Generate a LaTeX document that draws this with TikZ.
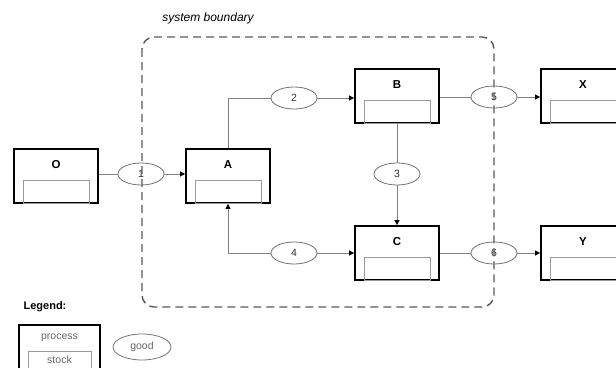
\documentclass[tikz,border=0pt]{standalone}
\usepackage{fontspec}
\setmainfont{Liberation Sans}
\usetikzlibrary{shapes.geometric, arrows.meta}

\tikzset{
  process/.style={draw, line width=1.8pt, minimum width=84pt, minimum height=54pt, inner sep=0pt},
  stock/.style={draw=black!40, line width=0.8pt, minimum width=66pt, minimum height=23pt, inner sep=0pt},
  title/.style={font=\fontsize{11.5}{13}\selectfont\bfseries},
  good/.style={ellipse, draw=black!55, line width=0.8pt, fill=white, minimum width=46pt, minimum height=22pt,
    inner sep=0pt, font=\fontsize{10.5}{12}\selectfont, text=black!80},
  flow/.style={draw=black!50, line width=0.8pt},
  tip/.style={-{Triangle[length=5pt, width=5pt, color=black]}},
  boundary/.style={draw=black!65, line width=1.4pt, dash pattern=on 8pt off 5pt, rounded corners=12pt},
  legtext/.style={font=\fontsize{10.5}{12}\selectfont, text=black!60}
}

\begin{document}
\begin{tikzpicture}[x=1pt, y=-1pt]
  \useasboundingbox (0,0) rectangle (616,367);
  \clip (0,0) rectangle (616,367);

  % processes with their stocks
  \foreach \n/\x/\y in {O/56/176, A/228/176, B/397/96, C/397/253, X/583/96, Y/583/253} {
    \node (\n) [process] at (\x,\y) {};
    \node (\n t) [title] at ([yshift=-16pt]\n.north) {\n};
    \node (\n s) [stock, anchor=south] at (\n.south) {};
  }

  % goods
  \foreach \n/\x/\y in {1/141/174, 2/294/98, 3/397/174, 4/294/253, 5/494/97, 6/494/253}
    \node (g\n) [good] at (\x,\y) {\n};

  % flows
  \draw[flow] (O.east |- g1) -- (g1);
  \draw[flow, tip] (g1) -- (g1 -| A.west);
  \draw[flow] (A.north) |- (g2);
  \draw[flow, tip] (g2) -- (g2 -| B.west);
  \draw[flow] (B.south) -- (g3);
  \draw[flow, tip] (g3) -- (C.north);
  \draw[flow, tip] (g4) -| (A.south);
  \draw[flow, tip] (g4) -- (g4 -| C.west);
  \draw[flow] (B.east |- g5) -- (g5);
  \draw[flow, tip] (g5) -- (g5 -| X.west);
  \draw[flow] (C.east |- g6) -- (g6);
  \draw[flow, tip] (g6) -- (g6 -| Y.west);

  % system boundary
  \draw[boundary] (142,37) rectangle (494,307);
  \node (sysl) at (208,18) {\fontsize{12}{14}\selectfont\itshape system boundary};

  % legend
  \node (leg) at (45,307) {\fontsize{11}{13}\selectfont\bfseries Legend:};
  \node (lp) [process, minimum width=81pt] at (59.5,352) {};
  \node (lpt) [legtext] at (59.5,338) {process};
  \node (ls) [stock, minimum width=63pt, minimum height=28pt, anchor=south] at (lp.south) {};
  \node (lst) [legtext] at (59.5,360) {stock};
  \node (lg) [good, minimum width=58pt, minimum height=26pt, text=black!60] at (142,347) {good};
\end{tikzpicture}
\end{document}
